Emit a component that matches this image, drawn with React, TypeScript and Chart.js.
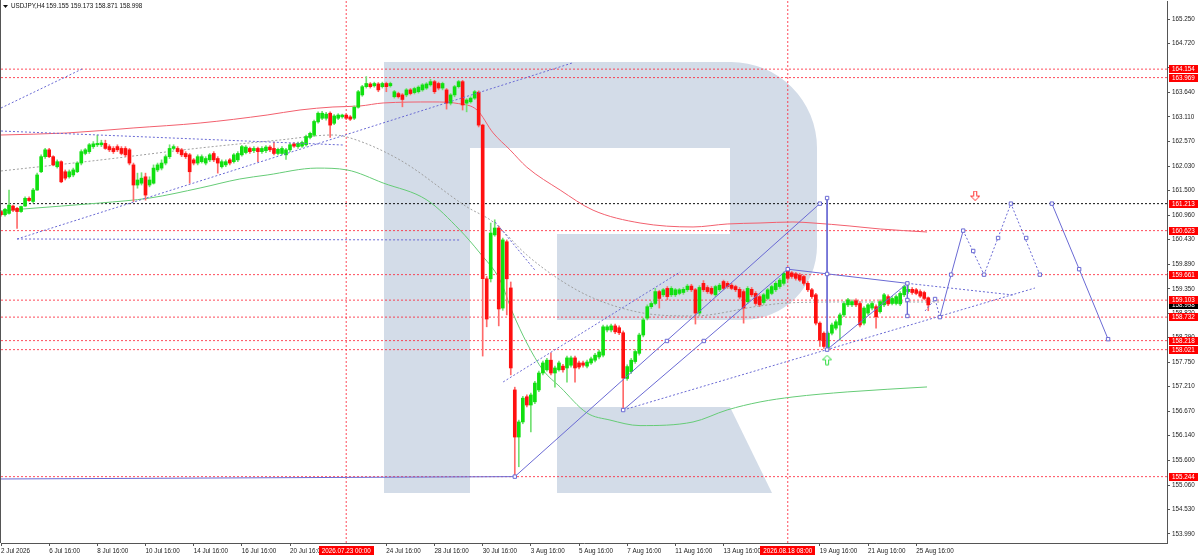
import React, { useEffect, useRef } from "react";
import { Chart, registerables } from "chart.js";

Chart.register(...registerables);

// ---------------- data ----------------
const OPEN = [
  161.04,160.97,161.00,161.16,161.11,161.04,161.16,161.33,161.26,161.51,
  161.91,162.24,162.39,162.24,162.02,162.13,161.91,161.80,161.84,161.91,
  162.10,162.31,162.35,162.46,162.50,162.50,162.53,162.46,162.42,162.46,
  162.42,162.42,162.39,162.06,161.62,161.66,161.80,161.62,161.66,161.95,
  161.99,162.10,162.24,162.42,162.42,162.39,162.31,162.28,162.17,162.10,
  162.13,162.10,162.17,162.31,162.20,162.02,162.06,162.17,162.13,162.17,
  162.28,162.33,162.42,162.37,162.42,162.35,162.37,162.45,162.42,162.31,
  162.31,162.28,162.39,162.52,162.46,162.47,162.50,162.66,162.71,163.00,
  163.08,163.08,163.19,162.97,163.08,163.11,163.15,163.11,163.08,163.32,
  163.59,163.77,163.83,163.79,163.83,163.77,163.84,163.79,163.55,163.62,
  163.59,163.59,163.70,163.64,163.66,163.70,163.74,163.81,163.88,163.84,
  163.74,163.70,163.41,163.59,163.77,163.88,163.41,163.44,163.52,163.65,
  162.93,159.57,159.57,160.53,160.68,158.93,160.38,159.37,157.14,156.11,
  156.44,156.99,156.81,156.88,157.14,157.51,157.58,157.79,157.51,157.58,
  157.66,157.62,157.68,157.84,157.73,157.73,157.66,157.73,157.79,157.86,
  157.90,158.45,158.45,158.54,158.50,158.39,157.39,157.54,157.76,157.94,
  158.34,158.71,158.96,159.03,159.29,159.22,159.36,159.22,159.22,159.25,
  159.27,159.33,159.41,159.33,158.82,159.47,159.38,159.36,159.22,159.33,
  159.51,159.47,159.43,159.40,159.34,159.29,159.07,159.34,159.25,159.18,
  159.05,159.14,159.25,159.33,159.40,159.47,159.76,159.70,159.68,159.65,
  159.62,159.47,159.33,159.22,158.60,158.38,158.05,158.38,158.49,158.56,
  158.78,159.00,159.00,159.09,159.03,158.60,158.82,158.93,158.96,158.85,
  159.00,159.18,159.03,159.03,159.02,159.22,159.29,159.34,159.33,159.29,
  159.27,159.155,
];
const HIGH = [
  161.06,161.11,161.51,161.18,161.13,161.16,161.36,161.36,161.55,161.88,
  162.28,162.42,162.42,162.26,162.17,162.15,161.95,161.95,161.99,162.13,
  162.39,162.42,162.53,162.57,162.71,162.60,162.60,162.50,162.46,162.50,
  162.46,162.46,162.42,162.10,161.88,161.89,161.88,161.80,162.06,162.10,
  162.17,162.28,162.50,162.50,162.46,162.42,162.35,162.31,162.20,162.28,
  162.28,162.24,162.31,162.35,162.24,162.17,162.17,162.20,162.31,162.35,
  162.49,162.48,162.45,162.46,162.45,162.46,162.48,162.48,162.56,162.43,
  162.46,162.42,162.53,162.55,162.56,162.58,162.71,162.78,163.04,163.22,
  163.23,163.21,163.22,163.16,163.18,163.17,163.18,163.14,163.35,163.69,
  163.80,163.99,163.86,163.87,163.86,163.87,163.87,163.87,163.69,163.65,
  163.62,163.73,163.73,163.76,163.79,163.84,163.86,163.93,163.91,163.87,
  163.87,163.73,163.62,163.80,163.91,163.91,163.51,163.55,163.69,163.68,
  162.95,159.62,160.79,160.86,160.72,160.46,160.42,159.50,157.20,156.48,
  157.00,157.03,157.07,157.33,157.55,157.77,157.83,157.95,157.66,157.77,
  157.70,157.88,157.88,157.88,157.77,157.77,157.79,157.86,157.94,158.01,
  158.56,158.56,158.58,158.58,158.54,158.43,157.69,157.83,158.02,158.38,
  158.71,159.00,159.07,159.36,159.32,159.36,159.40,159.40,159.36,159.36,
  159.38,159.45,159.45,159.36,159.42,159.53,159.42,159.40,159.43,159.47,
  159.54,159.51,159.47,159.43,159.38,159.33,159.40,159.38,159.29,159.22,
  159.25,159.36,159.43,159.51,159.58,159.72,159.78,159.73,159.71,159.69,
  159.65,159.51,159.36,159.25,158.63,158.41,158.41,158.60,158.67,158.82,
  159.07,159.14,159.11,159.13,159.07,158.96,159.03,159.07,159.00,159.11,
  159.25,159.22,159.18,159.22,159.29,159.43,159.47,159.38,159.36,159.33,
  159.30,159.173,
];
const LOW = [
  160.94,160.94,160.98,161.04,160.67,161.02,161.15,161.26,161.23,161.50,
  161.89,162.20,162.22,162.04,161.99,161.67,161.73,161.77,161.80,161.89,
  162.06,162.28,162.31,162.42,162.46,162.46,162.40,162.35,162.31,162.35,
  162.28,162.24,162.06,161.26,161.55,161.62,161.29,161.58,161.64,161.91,
  161.95,162.06,162.20,162.39,162.31,162.24,162.20,161.66,162.06,162.06,
  162.10,162.06,162.13,162.13,161.88,161.99,162.02,162.06,162.10,162.13,
  162.25,162.30,162.31,162.33,162.13,162.31,162.33,162.35,162.28,162.28,
  162.28,162.18,162.35,162.44,162.42,162.44,162.47,162.63,162.68,162.97,
  163.05,163.04,162.66,162.94,163.05,163.08,163.05,163.03,163.05,163.30,
  163.56,163.74,163.74,163.76,163.66,163.74,163.66,163.76,163.52,163.52,
  163.33,163.55,163.59,163.61,163.63,163.67,163.71,163.78,163.62,163.70,
  163.70,163.28,163.37,163.55,163.74,163.26,163.22,163.41,163.49,162.89,
  157.88,158.52,159.50,160.50,158.54,158.88,158.78,157.47,155.244,155.46,
  156.40,156.77,156.22,156.84,157.10,157.47,157.55,157.47,157.20,157.55,
  157.53,157.31,157.64,157.31,157.60,157.64,157.62,157.70,157.75,157.82,
  157.86,158.41,158.41,158.37,158.35,156.70,157.35,157.50,157.72,157.90,
  158.30,158.67,158.92,159.00,158.93,159.18,159.11,159.18,159.18,159.22,
  159.23,159.29,159.29,158.58,158.78,159.29,159.25,159.22,159.18,159.29,
  159.33,159.36,159.33,159.29,159.13,158.60,159.03,159.18,158.99,158.96,
  159.01,159.11,159.22,159.29,159.36,159.43,159.54,159.58,159.54,159.51,
  159.43,159.29,159.14,158.56,158.09,158.05,158.021,158.34,158.45,158.23,
  158.74,158.96,158.96,158.96,158.52,158.56,158.78,158.89,158.49,158.82,
  158.96,158.98,159.00,159.00,158.98,159.18,159.25,159.23,159.22,159.16,
  159.11,158.871,
];
const CLOSE = [
  160.97,161.09,161.18,161.07,161.04,161.15,161.33,161.28,161.51,161.84,
  162.24,162.39,162.24,162.06,162.13,161.69,161.77,161.91,161.95,162.10,
  162.35,162.39,162.50,162.52,162.53,162.54,162.42,162.39,162.35,162.39,
  162.31,162.28,162.10,161.62,161.73,161.77,161.40,161.73,161.99,162.06,
  162.10,162.24,162.42,162.46,162.35,162.28,162.24,161.91,162.10,162.24,
  162.24,162.20,162.28,162.17,162.10,162.13,162.13,162.10,162.28,162.31,
  162.46,162.45,162.35,162.42,162.35,162.42,162.45,162.39,162.31,162.40,
  162.42,162.39,162.50,162.47,162.53,162.55,162.68,162.75,163.01,163.19,
  163.19,163.17,162.93,163.13,163.15,163.15,163.08,163.06,163.32,163.66,
  163.77,163.84,163.77,163.84,163.70,163.84,163.77,163.84,163.66,163.55,
  163.49,163.70,163.62,163.73,163.76,163.81,163.83,163.88,163.66,163.74,
  163.84,163.41,163.59,163.77,163.88,163.37,163.48,163.52,163.66,162.93,
  159.57,158.69,160.57,160.68,158.91,160.42,159.57,157.62,156.11,156.44,
  156.96,156.81,157.03,157.29,157.51,157.73,157.79,157.51,157.62,157.73,
  157.58,157.84,157.84,157.62,157.64,157.68,157.75,157.82,157.90,157.97,
  158.52,158.52,158.54,158.41,158.39,157.40,157.65,157.79,157.98,158.34,
  158.67,158.96,159.03,159.29,159.14,159.33,159.18,159.36,159.33,159.33,
  159.34,159.41,159.33,158.82,159.38,159.33,159.29,159.25,159.40,159.43,
  159.36,159.40,159.36,159.33,159.17,158.93,159.36,159.22,159.03,159.00,
  159.22,159.33,159.40,159.47,159.54,159.69,159.58,159.62,159.58,159.54,
  159.47,159.33,159.18,158.60,158.23,158.09,158.38,158.56,158.63,158.78,
  159.03,159.11,159.07,159.00,158.56,158.93,159.00,159.03,158.74,159.07,
  159.22,159.02,159.14,159.18,159.25,159.40,159.34,159.27,159.25,159.19,
  159.14,158.998,
];

// time axis: bar index of each label and its text
const TIME_TICK_BARS = [0, 12, 24, 36, 48, 60, 72, 96, 108, 120, 132, 144, 156, 168, 180, 204, 216, 228];
const TIME_TICK_LABELS = [
  "2 Jul 2026", "6 Jul 16:00", "8 Jul 16:00", "10 Jul 16:00", "14 Jul 16:00", "16 Jul 16:00",
  "20 Jul 16:00", "24 Jul 16:00", "28 Jul 16:00", "30 Jul 16:00", "3 Aug 16:00", "5 Aug 16:00",
  "7 Aug 16:00", "11 Aug 16:00", "13 Aug 16:00", "19 Aug 16:00", "21 Aug 16:00", "25 Aug 16:00",
];
const PRICE_TICKS = [
  165.25, 164.72, 164.18, 163.64, 163.11, 162.57, 162.03, 161.5, 160.96, 160.43, 159.89,
  159.35, 158.82, 158.29, 157.75, 157.21, 156.67, 156.14, 155.6, 155.06, 154.53, 153.99,
];
const RED_LEVELS = [164.154, 163.969, 160.623, 159.661, 159.103, 158.732, 158.218, 158.021, 155.244];
const BLACK_LEVEL = 161.213;
const LAST_PRICE = 158.998;
const MARKED_BARS = [86, 196];
const MARKED_BAR_LABELS = ["2026.07.23 00:00", "2026.08.18 08:00"];
const SYMBOL = "USDJPY,H4";
const LAST_BAR_QUOTE = ["159.155", "159.173", "158.871", "158.998"];

// indicator curves [barIndex, price]
const RED_MA = [
  [0, 162.714], [16.4, 162.758], [32.9, 162.867], [49.6, 162.976], [66.3, 163.151], [74.5, 163.261],
  [82.7, 163.326], [89.4, 163.348], [95.2, 163.414], [107.6, 163.436], [114.0, 163.40], [118.6, 163.26],
  [122.6, 162.76], [126.8, 162.39], [131.0, 162.01], [139.3, 161.51], [147.5, 161.07], [159.2, 160.79],
  [172.4, 160.703], [180.9, 160.768], [189.1, 160.79], [197.3, 160.812], [202.3, 160.79], [211.5, 160.724],
  [219.0, 160.659], [230.7, 160.593],
];
const GREEN_MA = [
  [0, 161.052], [5.5, 161.096], [24.7, 161.227], [37.1, 161.336], [49.6, 161.555], [59.5, 161.752],
  [66.3, 161.839], [78.7, 161.99], [86.2, 161.95], [95.2, 161.664], [106.1, 161.293], [114.3, 160.637],
  [119.3, 160.134], [124.3, 159.544], [127.5, 158.822], [131.0, 158.166], [135.0, 157.576], [139.3, 157.204],
  [146.0, 156.635], [151.7, 156.482], [159.2, 156.36], [172.4, 156.439], [180.9, 156.702], [189.1, 156.877],
  [197.3, 156.986], [210.8, 157.096], [230.7, 157.205],
];
const GRAY_MA = [
  [0, 161.927], [24.7, 162.167], [49.6, 162.43], [69.5, 162.605], [82.7, 162.714], [86.2, 162.67],
  [99.4, 162.167], [116.1, 161.14], [122.6, 160.812], [131.0, 160.09], [139.3, 159.544], [147.5, 159.15],
  [159.9, 158.822], [172.4, 158.757], [189.1, 158.976], [195.8, 159.041], [211.5, 159.063], [233.9, 159.063],
];

// drawn objects [barIndex, price]
const TREND_SOLID = [
  [[0, 155.193], [128, 155.244]],
  [[128, 155.244], [204.0, 161.213]],
  [[155, 156.70], [196, 159.78]],
  [[205.8, 161.336], [205.8, 158.021]],
  [[196, 159.78], [225.8, 159.47]],
  [[205.8, 158.021], [225.8, 159.47]],
  [[225.8, 159.47], [225.8, 158.757]],
  [[233.9, 158.732], [236.7, 159.661], [239.7, 160.623]],
  [[261.8, 161.213], [268.6, 159.78], [275.8, 158.25]],
];
const TREND_DOTTED = [
  [[0, 163.304], [20.2, 164.157]],
  [[0, 162.801], [85.2, 162.495]],
  [[4, 160.44], [142.3, 164.288]],
  [[4, 160.44], [114.4, 160.418]],
  [[125.1, 157.314], [169.2, 159.719]],
  [[123.1, 160.812], [133, 159.762]],
  [[155, 156.70], [257.6, 159.369]],
  [[225.8, 159.47], [252.1, 159.216]],
  [[230.2, 158.866], [232.7, 159.128], [233.9, 158.732]],
  [[239.7, 160.623], [244.9, 159.661], [251.6, 161.213], [258.8, 159.661]],
];
const MARKERS = [
  [128, 155.244], [204.0, 161.213], [155, 156.70], [196, 159.78], [205.8, 161.336], [205.8, 159.675],
  [205.8, 158.021], [225.8, 159.47], [225.8, 159.106], [225.8, 158.757], [232.7, 159.128], [233.9, 158.732],
  [236.7, 159.661], [239.7, 160.623], [242.2, 160.178], [244.9, 159.661], [248.4, 160.462], [251.6, 161.213],
  [255.4, 160.462], [258.8, 159.661], [261.8, 161.213], [268.6, 159.78], [275.8, 158.25],
  [165.9, 158.21], [175.1, 158.21],
];
const UP_ARROWS = [[205.8, 157.79]];
const DOWN_ARROWS = [[242.7, 161.38]];

// ---------------- view ----------------
const X_MIN = 0;
const X_MAX = 290.48;
const Y_MIN = 153.793;
const Y_MAX = 165.6436;

const FONT_FAMILY = "'Liberation Sans', Arial, sans-serif";
const FONT_SIZE = 6.3;
const BULL = "#10e010";
const BEAR = "#ff1010";
const BULL_WICK = "#72e072";
const BEAR_WICK = "#ff6a6a";
const LEVEL_RED = "rgba(255,30,50,0.8)";
const BLUE = "#6a6ad4";
const LOGO = "#d3dce8";

function makeArrow(color: string, down: boolean) {
  const c = document.createElement("canvas");
  c.width = 10;
  c.height = 11;
  const g = c.getContext("2d")!;
  g.translate(0.5, 0.5);
  g.beginPath();
  if (down) {
    g.moveTo(3, 0); g.lineTo(6, 0); g.lineTo(6, 5); g.lineTo(9, 5); g.lineTo(4.5, 9.5); g.lineTo(0, 5); g.lineTo(3, 5);
  } else {
    g.moveTo(4.5, 0); g.lineTo(9, 4.5); g.lineTo(6, 4.5); g.lineTo(6, 9.5); g.lineTo(3, 9.5); g.lineTo(3, 4.5); g.lineTo(0, 4.5);
  }
  g.closePath();
  g.fillStyle = "#ffffff";
  g.fill();
  g.strokeStyle = color;
  g.lineWidth = 1;
  g.stroke();
  return c;
}

const pts = (arr: number[][]) => arr.map(([x, y]) => ({ x, y }));

export default function App() {
  const ref = useRef<HTMLCanvasElement>(null);

  useEffect(() => {
    const canvas = ref.current;
    if (!canvas) return;
    const bars = OPEN.map((_, i) => i);
    const up = bars.map((i) => CLOSE[i] >= OPEN[i]);

    const line = (data: any[], color: string, dash: number[], order: number, extra: any = {}) => ({
      type: "line",
      data,
      borderColor: color,
      borderWidth: 1,
      borderDash: dash,
      pointRadius: 0,
      fill: false,
      tension: 0,
      order,
      ...extra,
    });

    const datasets: any[] = [];
    RED_LEVELS.forEach((lv) =>
      datasets.push(line([{ x: X_MIN, y: lv }, { x: X_MAX, y: lv }], LEVEL_RED, [2, 2], 30))
    );
    datasets.push(line([{ x: X_MIN, y: BLACK_LEVEL }, { x: X_MAX, y: BLACK_LEVEL }], "#111", [2, 2], 30));
    MARKED_BARS.forEach((b) =>
      datasets.push(line([{ x: b, y: Y_MIN }, { x: b, y: Y_MAX }], LEVEL_RED, [2, 2], 30))
    );
    datasets.push(line(pts(GRAY_MA), "#a0a0a0", [2, 2], 25, { cubicInterpolationMode: "monotone" }));
    datasets.push(line(pts(RED_MA), "#f2606e", [], 24, { cubicInterpolationMode: "monotone" }));
    datasets.push(line(pts(GREEN_MA), "#66cc77", [], 24, { cubicInterpolationMode: "monotone" }));

    datasets.push({
      type: "bar",
      data: bars.map((i) => ({ x: i, y: [LOW[i], HIGH[i]] })),
      backgroundColor: bars.map((i) => (up[i] ? BULL_WICK : BEAR_WICK)),
      barThickness: 1,
      grouped: false,
      borderWidth: 0,
      minBarLength: 1,
      order: 12,
    });
    datasets.push({
      type: "bar",
      data: bars.map((i) => ({ x: i, y: [OPEN[i], CLOSE[i]] })),
      backgroundColor: bars.map((i) => (up[i] ? BULL : BEAR)),
      barThickness: 3,
      grouped: false,
      borderWidth: 0,
      minBarLength: 1,
      order: 11,
    });

    TREND_DOTTED.forEach((seg) => datasets.push(line(pts(seg), BLUE, [2, 2], 6)));
    TREND_SOLID.forEach((seg) => datasets.push(line(pts(seg), BLUE, [], 5)));
    datasets.push({
      type: "line",
      data: pts(MARKERS),
      showLine: false,
      pointStyle: "rect",
      pointRadius: 2.4,
      pointBorderColor: BLUE,
      pointBackgroundColor: "#ffffff",
      pointBorderWidth: 1,
      order: 2,
    });
    datasets.push({
      type: "line",
      data: pts(UP_ARROWS),
      showLine: false,
      pointStyle: makeArrow("#33dd44", false),
      pointRadius: 5,
      order: 1,
    });
    datasets.push({
      type: "line",
      data: pts(DOWN_ARROWS),
      showLine: false,
      pointStyle: makeArrow("#ff3030", true),
      pointRadius: 5,
      order: 1,
    });

    const font = `${FONT_SIZE}px ${FONT_FAMILY}`;

    const decor = {
      id: "decor",
      beforeDatasetsDraw(chart: any) {
        const { ctx, chartArea: a } = chart;
        ctx.save();
        ctx.beginPath();
        ctx.rect(a.left, a.top, a.right - a.left, a.bottom - a.top);
        ctx.clip();
        ctx.fillStyle = LOGO;
        ctx.beginPath();
        ctx.moveTo(384, 62);
        ctx.lineTo(730, 62);
        ctx.arcTo(817, 62, 817, 150, 86);
        ctx.lineTo(817, 246);
        ctx.arcTo(817, 320, 745, 320, 74);
        ctx.lineTo(557, 320);
        ctx.lineTo(557, 234);
        ctx.lineTo(730, 234);
        ctx.lineTo(730, 148);
        ctx.lineTo(470, 148);
        ctx.lineTo(470, 493);
        ctx.lineTo(384, 493);
        ctx.closePath();
        ctx.fill();
        ctx.beginPath();
        ctx.moveTo(557, 407);
        ctx.lineTo(730, 407);
        ctx.lineTo(772, 493);
        ctx.lineTo(557, 493);
        ctx.closePath();
        ctx.fill();
        ctx.restore();
      },
      afterDraw(chart: any) {
        const { ctx, chartArea: a, scales } = chart;
        const ys = scales.y;
        const xs = scales.x;
        ctx.save();
        ctx.font = font;
        ctx.textBaseline = "middle";
        // left frame
        ctx.strokeStyle = "#555";
        ctx.lineWidth = 1;
        ctx.beginPath();
        ctx.moveTo(a.left - 0.5, 0);
        ctx.lineTo(a.left - 0.5, a.bottom);
        ctx.stroke();

        const priceBox = (v: number, bg: string) => {
          const y = Math.round(ys.getPixelForValue(v));
          ctx.fillStyle = bg;
          ctx.fillRect(a.right + 2, y - 4, 29, 8);
          ctx.fillStyle = "#fff";
          ctx.textAlign = "left";
          ctx.fillText(v.toFixed(3), a.right + 5, y + 0.5);
        };
        priceBox(LAST_PRICE, "#000");
        [...RED_LEVELS, BLACK_LEVEL].forEach((v) => priceBox(v, "#ff0000"));

        MARKED_BARS.forEach((b, k) => {
          const x = xs.getPixelForValue(b);
          const txt = MARKED_BAR_LABELS[k];
          const w = ctx.measureText(txt).width + 6;
          ctx.fillStyle = "#ff0000";
          ctx.fillRect(Math.round(x - w / 2), a.bottom + 3, Math.round(w), 11);
          ctx.fillStyle = "#fff";
          ctx.textAlign = "center";
          ctx.fillText(txt, x, a.bottom + 8.5);
        });

        // header
        ctx.fillStyle = "#111";
        ctx.textAlign = "left";
        ctx.beginPath();
        ctx.moveTo(3, 5);
        ctx.lineTo(8, 5);
        ctx.lineTo(5.5, 8);
        ctx.closePath();
        ctx.fill();
        ctx.fillText(SYMBOL, 11, 6.5);
        const qx = [46, 70.5, 95, 119.5];
        LAST_BAR_QUOTE.forEach((q, k) => ctx.fillText(q, qx[k], 6.5));
        ctx.restore();
      },
    };

    const chart = new Chart(canvas, {
      type: "bar",
      data: { datasets },
      plugins: [decor],
      options: {
        responsive: false,
        animation: false,
        devicePixelRatio: 1,
        events: [],
        layout: { autoPadding: false, padding: { top: 1, left: 1, right: 0, bottom: 0 } },
        plugins: { legend: { display: false }, tooltip: { enabled: false } },
        scales: {
          x: {
            type: "linear",
            min: X_MIN,
            max: X_MAX,
            offset: false,
            afterBuildTicks: (s: any) => {
              s.ticks = TIME_TICK_BARS.map((v) => ({ value: v }));
            },
            afterFit: (s: any) => {
              s.height = 12;
              s.paddingLeft = 0;
              s.paddingRight = 0;
            },
            grid: { drawOnChartArea: false, drawTicks: true, tickLength: 3, color: "#555", offset: false },
            border: { display: true, color: "#555" },
            ticks: {
              autoSkip: false,
              maxRotation: 0,
              minRotation: 0,
              align: "start",
              padding: 1,
              color: "#222",
              font: { family: FONT_FAMILY, size: FONT_SIZE },
              callback: (v: any) => {
                const k = TIME_TICK_BARS.indexOf(Number(v));
                return k >= 0 ? TIME_TICK_LABELS[k] : "";
              },
            },
          },
          y: {
            type: "linear",
            position: "right",
            min: Y_MIN,
            max: Y_MAX,
            beginAtZero: false,
            afterBuildTicks: (s: any) => {
              s.ticks = PRICE_TICKS.map((v) => ({ value: v }));
            },
            afterFit: (s: any) => {
              s.width = 33;
              s.paddingTop = 0;
              s.paddingBottom = 0;
            },
            grid: { drawOnChartArea: false, drawTicks: true, tickLength: 3, color: "#555" },
            border: { display: true, color: "#555" },
            ticks: {
              padding: 2,
              color: "#222",
              font: { family: FONT_FAMILY, size: FONT_SIZE },
              callback: (v: any) => Number(v).toFixed(3),
            },
          },
        },
      } as any,
    } as any);
    return () => chart.destroy();
  }, []);

  return (
    <div style={{ position: "fixed", left: 0, top: 0, width: 1200, height: 555, background: "#fff" }}>
      <canvas ref={ref} width={1200} height={555} style={{ display: "block", width: 1200, height: 555 }} />
    </div>
  );
}
